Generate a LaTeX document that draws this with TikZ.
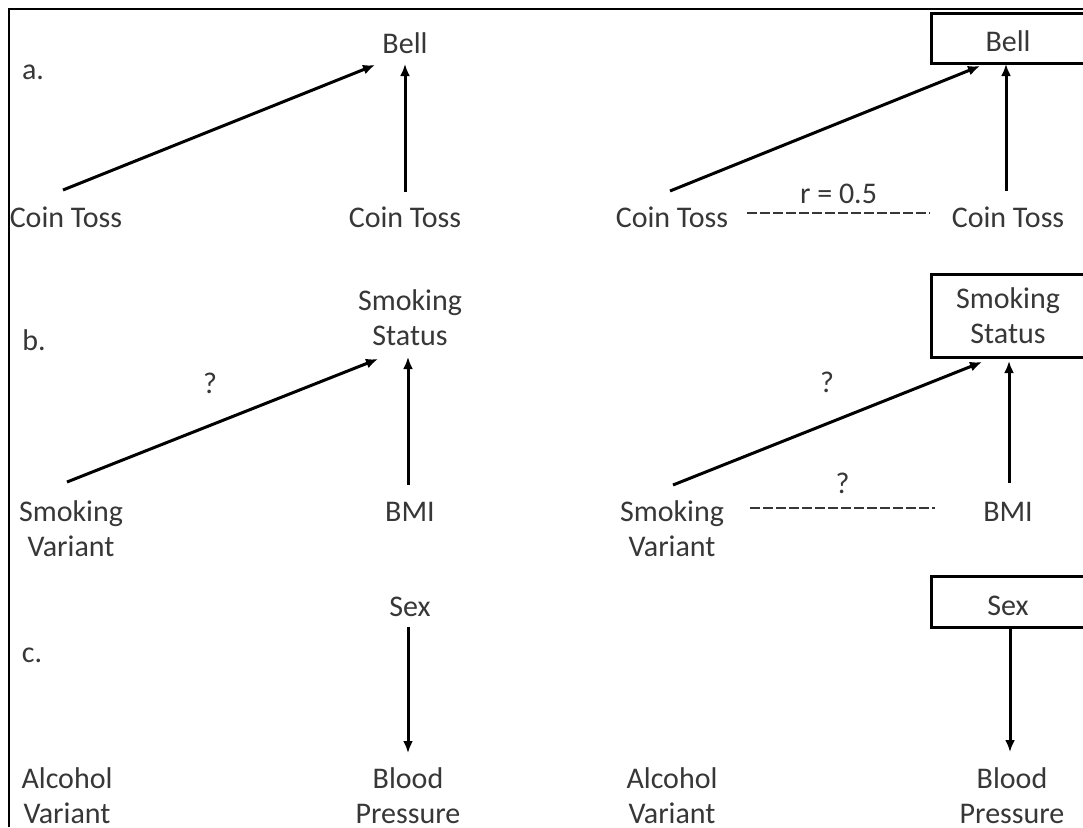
\documentclass[tikz,border=0pt]{standalone}
\usepackage{fontspec}
\setmainfont{Carlito}
\usetikzlibrary{arrows.meta}
\definecolor{txt}{RGB}{55,55,55}
\begin{document}
\begin{tikzpicture}[x=1pt,y=-1pt,
  lbl/.style={inner sep=0pt, text=txt, font=\fontsize{30}{35}\selectfont, align=center},
  boxed/.style={lbl, draw=black, line width=3pt, minimum width=154pt},
  arr/.style={draw=black, line width=3pt, -{Latex[length=12pt,width=10pt]}},
  corrline/.style={draw=txt, line width=1.8pt, dash pattern=on 10pt off 3pt}
]
\useasboundingbox (0,0) rectangle (1083,827);
\fill[white] (0,0) rectangle (1083,827);
% frame
\draw[line width=2.5pt] (9,827) -- (9,9) -- (1083,9);

% ---------- panel a ----------
\node[lbl] (la) at (33,72) {a.};
\node[lbl] (bellL) at (405,43) {Bell};
\node[lbl] (coinLL) at (66,217) {Coin Toss};
\node[lbl] (coinLR) at (405,217) {Coin Toss};
\draw[arr] ([xshift=-3pt,yshift=27pt]coinLL.center) -- ([xshift=-30pt,yshift=-22pt]bellL.center);
\draw[arr] ([yshift=25pt]coinLR.center) -- ([yshift=-21pt]bellL.center);

\node[boxed, minimum height=50pt, text height=27pt, text depth=0pt] (bellR) at (1008,38) {Bell};
\node[lbl] (coinRL) at (672,217) {Coin Toss};
\node[lbl] (coinRR) at (1008,217) {Coin Toss};
\draw[arr] ([xshift=-2pt,yshift=26pt]coinRL.center) -- ([xshift=-28pt,yshift=-28pt]bellR.center);
\draw[arr] ([xshift=-2pt,yshift=26pt]coinRR.center) -- ([xshift=-2pt,yshift=-26pt]bellR.center);
\draw[corrline] ([xshift=75pt,yshift=4pt]coinRL.center) -- ([xshift=-78pt,yshift=4pt]coinRR.center)
  node[lbl, midway, yshift=19pt] (rlab) {r = 0.5};

% ---------- panel b ----------
\node[lbl] (lb) at (34,340) {b.};
\node[lbl] (ssL) at (410,318) {Smoking\\Status};
\node[lbl] (svL) at (71,529) {Smoking\\Variant};
\node[lbl] (bmiL) at (410,512) {BMI};
\draw[arr] ([xshift=-4pt,yshift=47pt]svL.center) -- ([xshift=-32pt,yshift=-41pt]ssL.center);
\draw[arr] ([xshift=-2pt,yshift=27pt]bmiL.center) -- ([xshift=-2pt,yshift=-39pt]ssL.center);
\node[lbl] (qL) at (210,383) {?};

\node[boxed, minimum height=83pt] (ssR) at (1008,316) {Smoking\\Status};
\node[lbl] (svR) at (672,529) {Smoking\\Variant};
\node[lbl] (bmiR) at (1008,512) {BMI};
\draw[arr] ([xshift=1pt,yshift=44pt]svR.center) -- ([xshift=-26pt,yshift=-46pt]ssR.center);
\draw[arr] ([xshift=1pt,yshift=29pt]bmiR.center) -- ([xshift=1pt,yshift=-45pt]ssR.center);
\node[lbl] (qR) at (827,382) {?};
\draw[corrline] ([xshift=78pt,yshift=21pt]svR.center) -- ([xshift=-73pt,yshift=4pt]bmiR.center)
  node[lbl, midway, yshift=25pt] (qR2) {?};

% ---------- panel c ----------
\node[lbl] (lc) at (32,655) {c.};
\node[lbl] (sexL) at (410,607) {Sex};
\node[lbl] (avL) at (67,796) {Alcohol\\Variant};
\node[lbl] (bpL) at (408,796) {Blood\\Pressure};
\draw[arr] ([xshift=-2pt,yshift=-20pt]sexL.center) -- ([yshift=43pt]bpL.center);

\node[boxed, minimum height=51pt, text height=27pt, text depth=0pt] (sexR) at (1008,602) {Sex};
\node[lbl] (avR) at (672,796) {Alcohol\\Variant};
\node[lbl] (bpR) at (1012,796) {Blood\\Pressure};
\draw[arr] ([xshift=2pt,yshift=-26pt]sexR.center) -- ([xshift=-2pt,yshift=44pt]bpR.center);
\end{tikzpicture}
\end{document}
